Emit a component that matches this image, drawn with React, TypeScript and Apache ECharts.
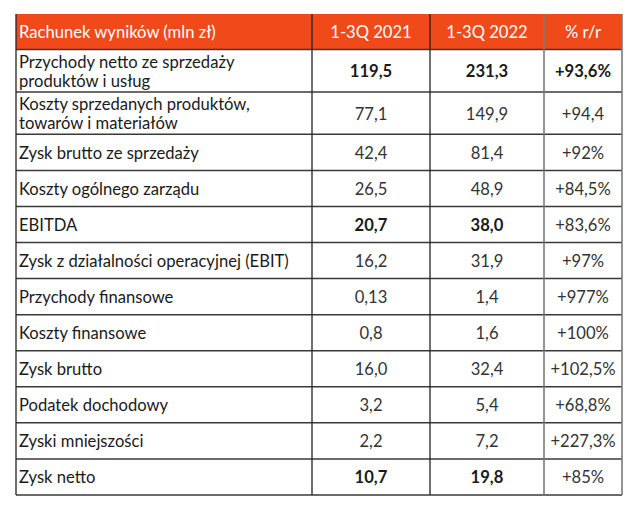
import React, { useEffect, useRef } from "react";
import * as echarts from "echarts";

const headers = ["Rachunek wyników (mln zł)", "1-3Q 2021", "1-3Q 2022", "% r/r"];
const items = [
  "Przychody netto ze sprzedaży\nproduktów i usług",
  "Koszty sprzedanych produktów,\ntowarów i materiałów",
  "Zysk brutto ze sprzedaży",
  "Koszty ogólnego zarządu",
  "EBITDA",
  "Zysk z działalności operacyjnej (EBIT)",
  "Przychody finansowe",
  "Koszty finansowe",
  "Zysk brutto",
  "Podatek dochodowy",
  "Zyski mniejszości",
  "Zysk netto",
];
const values2021 = ["119,5", "77,1", "42,4", "26,5", "20,7", "16,2", "0,13", "0,8", "16,0", "3,2", "2,2", "10,7"];
const values2022 = ["231,3", "149,9", "81,4", "48,9", "38,0", "31,9", "1,4", "1,6", "32,4", "5,4", "7,2", "19,8"];
const changes = ["+93,6%", "+94,4", "+92%", "+84,5%", "+83,6%", "+97%", "+977%", "+100%", "+102,5%", "+68,8%", "+227,3%", "+85%"];
const boldValueRows = [0, 4, 11];
const boldChangeRows = [0];

// layout
const colEdges = [0, 296 / 606, 414 / 606, 528 / 606, 1];
const headerH = 35.5;
const oneLineH = 36;
const twoLineH = 42.3;
const rowHeights = [headerH, ...items.map((t) => (t.includes("\n") ? twoLineH : oneLineH))];
const rowStarts: number[] = [];
rowHeights.reduce((acc, h) => {
  rowStarts.push(acc);
  return acc + h;
}, 0);
const totalH = rowHeights.reduce((a, b) => a + b, 0);

const ORANGE = "#F04A1A";
const FONT = "Lato";

export default function App() {
  const ref = useRef<HTMLDivElement>(null);
  useEffect(() => {
    if (!ref.current) return;
    const chart = echarts.init(ref.current, null, { renderer: "svg" });
    const data = rowHeights.map((_, i) => [i]);
    chart.setOption({
      animation: false,
      backgroundColor: "#ffffff",
      grid: { left: 16, right: 13, top: 14, bottom: 16 },
      xAxis: { type: "value", min: 0, max: 1, show: false },
      yAxis: { type: "value", min: 0, max: totalH, inverse: true, show: false },
      series: [
        {
          type: "custom",
          data,
          renderItem: (params: any, api: any) => {
            const r = api.value(0) as number;
            const y0 = rowStarts[r];
            const y1 = y0 + rowHeights[r];
            const isHeader = r === 0;
            const children: any[] = [];
            const cells = isHeader
              ? headers
              : [items[r - 1], values2021[r - 1], values2022[r - 1], changes[r - 1]];
            for (let c = 0; c < 4; c++) {
              const p0 = api.coord([colEdges[c], y0]);
              const p1 = api.coord([colEdges[c + 1], y1]);
              children.push({
                type: "rect",
                shape: { x: p0[0], y: p0[1], width: p1[0] - p0[0], height: p1[1] - p0[1] },
                style: { fill: isHeader ? ORANGE : "#ffffff" },
              });
              let bold = false;
              if (!isHeader) {
                if ((c === 1 || c === 2) && boldValueRows.includes(r - 1)) bold = true;
                if (c === 3 && boldChangeRows.includes(r - 1)) bold = true;
              }
              const cy = (p0[1] + p1[1]) / 2;
              children.push({
                type: "text",
                z2: 10,
                style: {
                  text: cells[c],
                  x: c === 0 ? p0[0] + 3 : (p0[0] + p1[0]) / 2,
                  y: cy + 0.5,
                  align: c === 0 ? "left" : "center",
                  verticalAlign: "middle",
                  fontFamily: FONT,
                  fontSize: 16.6,
                  fontWeight: bold ? "bold" : "normal",
                  lineHeight: 18.5,
                  fill: isHeader ? "#ffffff" : c === 0 || bold ? "#1a1a1a" : "#333333",
                },
              });
            }
            // vertical lines
            for (let c = 0; c < 5; c++) {
              const a = api.coord([colEdges[c], y0]);
              const b = api.coord([colEdges[c], y1]);
              const gray = c >= 3;
              children.push({
                type: "line",
                z2: 20,
                shape: { x1: a[0], y1: a[1], x2: b[0], y2: b[1] },
                style: { stroke: gray ? "#7a7a7a" : "#222222", lineWidth: gray ? 1.6 : 1.3 },
              });
            }
            // bottom line
            const l = api.coord([0, y1]);
            const rr = api.coord([1, y1]);
            children.push({
              type: "line",
              z2: 15,
              shape: { x1: l[0], y1: l[1], x2: rr[0], y2: rr[1] },
              style: { stroke: "#3a3a3a", lineWidth: 1.5 },
            });
            return { type: "group", children };
          },
        },
      ],
    });
    return () => chart.dispose();
  }, []);
  return (
    <div
      ref={ref}
      style={{ position: "fixed", left: 0, top: 0, width: 635, height: 511, background: "#fff" }}
    />
  );
}
